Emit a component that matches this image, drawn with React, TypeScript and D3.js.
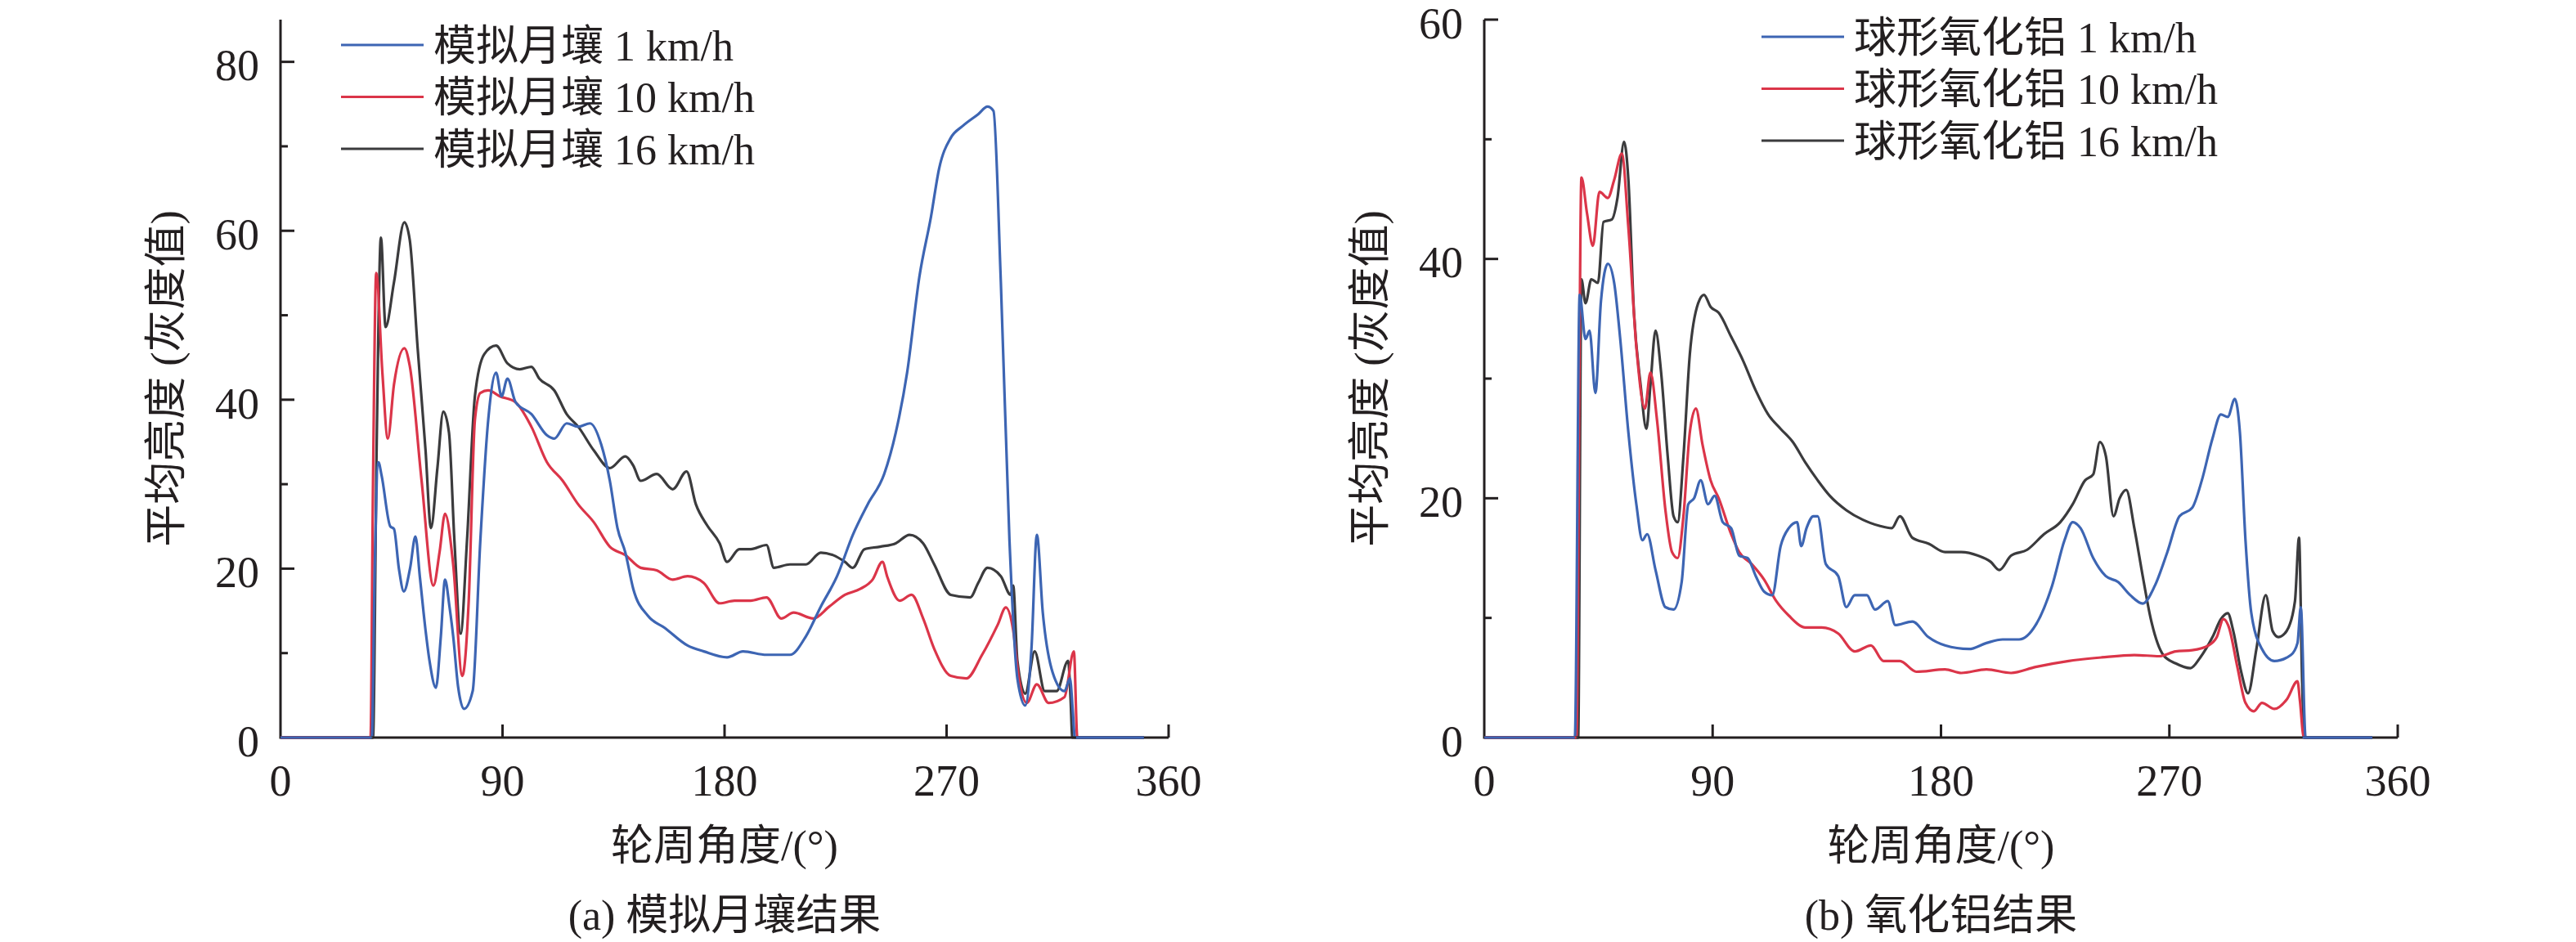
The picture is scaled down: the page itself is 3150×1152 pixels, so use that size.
import React, { useMemo } from 'react';
import * as d3 from 'd3';

type Pt = [number, number];

// (a) 模拟月壤 — angle (°), mean brightness
const soil1: Pt[] = [[0,0],[37,0],[38.2,20],[39.7,32.6],[41,31],[44.5,25],[46,24.7],[48,20],[50,17.3],[52.5,20],[54.7,23.8],[56.5,19],[58.8,12.7],[60.4,9.1],[63,5.9],[65,12],[66.7,18.7],[68.5,15.5],[70,12],[72,6],[74.4,3.4],[77.9,5.5],[81,23.3],[84.2,37.6],[87.4,43.2],[89.6,40.4],[92,42.5],[95.3,39.7],[101.7,38.3],[108,35.8],[111,35.4],[116,37.2],[120.7,36.8],[125.5,37.2],[130,34.7],[133.5,30.4],[136.6,24.8],[139.8,21.9],[143,17.6],[149,14.4],[155.7,13],[165,10.9],[171.6,10.2],[181,9.5],[187.5,10.2],[197,9.8],[206.5,9.8],[213,12],[219,15.5],[225.6,19.1],[232,24],[238,27.6],[244.7,31.2],[249.4,36.1],[254,43.2],[259,54.6],[263.7,61.7],[267,67.4],[271.7,71],[276.5,72.4],[282.8,73.8],[286.6,74.7],[289,74.2],[292,53.9],[295.5,23.3],[298.7,7],[301.9,3.8],[304.4,10.5],[306.6,24],[309,14.8],[313,7.7],[317.8,5.5],[320,7],[321.2,3],[322,0],[350,0]];
const soil10: Pt[] = [[0,0],[36.5,0],[37.5,30],[38.8,55],[41.3,43.2],[43.5,35.4],[46,41.8],[50.2,46.1],[52.4,44],[57.2,30.4],[62,18],[64.5,22],[66.7,26.5],[70,20.5],[73.7,7.3],[76.3,16.2],[78.8,37.6],[81,40.8],[84.2,41.1],[89,40.4],[95.3,39.7],[101.7,36.8],[108,32.6],[114.4,30.4],[120.7,27.6],[127,25.5],[133.5,22.6],[139.8,21.6],[146,20.1],[152.5,19.8],[159,18.7],[165,19.1],[171.6,18.3],[178,15.9],[184,16.2],[190.6,16.2],[197,16.6],[203,14.1],[208,14.8],[216,14.1],[222.4,15.5],[228.8,16.9],[235,17.6],[240,18.7],[244,20.8],[246,19],[251,16.2],[255.8,16.9],[260.5,14.1],[265,10.5],[271.7,7.3],[278,7],[284.4,9.8],[290.8,13.4],[294,15.4],[297,12.7],[299,7.7],[302.5,4.1],[306.6,6.3],[311.4,4.1],[317.8,4.8],[321.6,10.2],[323,0],[350,0]];
const soil16: Pt[] = [[0,0],[37.5,0],[39,35],[40.7,59.2],[42.6,48.6],[46,53.9],[50.2,61],[52.4,58.9],[55.6,46.1],[58.8,34],[61,24.8],[63.6,31.9],[66,38.6],[68.3,36.1],[70.5,23.3],[73,12.3],[75.6,23.3],[78.8,40.4],[82.6,45.4],[87.4,46.4],[92,44.3],[97,43.6],[101.7,43.9],[104.9,42.5],[111,41.1],[116,38.3],[120.7,36.8],[127,34],[133.5,31.9],[139.8,33.3],[143,32.2],[146,30.4],[152.5,31.2],[159,29.4],[164.6,31.5],[168.4,27.6],[173,25.1],[178,23],[181,20.8],[186,22.3],[190.6,22.3],[197,22.8],[200,20.1],[206.5,20.5],[213,20.5],[219,21.9],[224,21.6],[228.8,20.8],[232,20.1],[236.7,22.3],[243,22.6],[249.4,23],[255,24],[260.5,23],[265,20.5],[271.7,16.9],[279.6,16.6],[282.8,18.3],[286.6,20.1],[292,19.1],[296,16.9],[297,18],[298.7,9.1],[301.9,5.2],[305.7,10.2],[309.8,5.5],[314.6,5.5],[319.3,9.1],[320.2,5],[321,0],[350,0]];

// (b) 球形氧化铝
const alu1: Pt[] = [[0,0],[35.7,0],[37.6,37],[39.9,33.3],[41.5,34],[43.8,28.8],[46,36.5],[48.7,39.6],[51.2,38],[53.5,33.5],[56.8,25.5],[60,19.4],[62.3,16.5],[64.2,17],[67.5,14],[71.4,10.9],[74.6,10.7],[77.8,13],[80.4,19.5],[82.7,20],[85.3,21.5],[88.2,19.5],[90.8,20.2],[94,18],[97.3,17.5],[100.5,15.2],[103.8,15],[107,13.5],[110.3,12.2],[113.5,11.9],[116.8,16],[120,17.5],[123.3,18],[124.9,16],[127,17.5],[129.7,18.5],[131.4,18.5],[134.6,14.5],[139.5,13.5],[142.7,10.9],[146,11.9],[150.8,11.9],[154,10.7],[159,11.4],[162,9.4],[168.7,9.7],[175,8.4],[181.6,7.7],[191,7.4],[197.9,7.9],[204.3,8.2],[210.8,8.2],[217.3,9.4],[223.8,12.7],[228.7,16.5],[231.9,18],[235,17.5],[240,15],[244.9,13.5],[249.8,13],[254.6,11.9],[259.5,11.2],[264.3,12.7],[269.2,15.5],[274,18.5],[279,19.2],[282.8,21.5],[287,25],[290.3,27],[293,26.8],[295.8,28.3],[297.8,25.5],[300,16.5],[302.3,10.4],[306.5,7.4],[311.4,6.4],[317.9,6.9],[320.5,7.9],[321.8,10.9],[323.7,0],[350,0]];
const alu10: Pt[] = [[0,0],[36.3,0],[38.3,46.8],[40.5,43.8],[42.8,41.1],[45.4,45.6],[48.7,45.1],[51.2,46.6],[54.2,48.8],[56.8,42.6],[60,32.5],[63.3,27.5],[65.5,30.5],[68.1,26.5],[71.4,19],[74,15.5],[76.2,15],[78.5,18.5],[81,25.5],[83.4,27.5],[86,24.5],[89.2,21.5],[92.4,20],[97.3,17],[100.5,15.5],[105.4,14.5],[110.3,13.2],[115.1,11.4],[120,10.2],[126.5,9.2],[133,9.2],[139.5,8.7],[146,7.2],[152.4,7.7],[157.3,6.4],[163.8,6.4],[170.3,5.5],[181.6,5.7],[188,5.4],[197.9,5.7],[207.6,5.4],[217.3,5.9],[230.3,6.4],[243.3,6.7],[256.2,6.9],[266,6.8],[272.5,7.2],[279,7.3],[285.4,7.7],[288.7,8.4],[291.3,9.9],[293.5,9.2],[296.8,5.9],[300,2.9],[303.3,2.2],[306.5,2.9],[311.4,2.4],[316.3,3.2],[320.5,4.7],[321.5,3],[323,0],[350,0]];
const alu16: Pt[] = [[0,0],[37,0],[38.3,38.3],[39.9,36.3],[42.2,38.3],[44.8,38],[47,43.1],[50.3,43.3],[52.5,45.1],[55.1,49.8],[56.8,46.6],[59,35.5],[61.6,29.5],[63.9,25.8],[65.5,29.5],[67.5,34],[69.7,30.5],[72.3,23.5],[74.6,18.5],[76.2,18],[78.5,23.5],[81,32],[84.3,36.3],[86.6,37],[89.2,36],[92.4,35.5],[97.3,33.5],[102,31.5],[107,29],[111.9,27],[116.8,25.8],[121.6,24.7],[126.5,23],[131.4,21.5],[136.2,20.2],[142.7,19],[149.2,18.2],[155.7,17.7],[160.6,17.5],[163.8,18.5],[168.7,16.7],[175.2,16.2],[181.6,15.5],[188,15.5],[194.6,15.2],[199.5,14.7],[203,14],[207.6,15.2],[214,15.7],[220.6,17],[227,18],[231.9,19.5],[236.8,21.5],[240,22],[242.6,24.7],[245,23.5],[248,18.5],[250.4,20],[253,20.7],[256.2,17.5],[259.5,13.5],[262.7,9.9],[267.6,6.9],[272.5,6.2],[278.3,5.8],[282.2,6.7],[287,8.4],[290.3,9.9],[293,10.4],[295.2,8.9],[298.4,5.4],[301,3.7],[304.3,7.4],[308,11.9],[310.7,8.9],[313,8.4],[316.2,8.9],[319.5,11.4],[321.1,16.7],[322.3,5],[323.2,0],[350,0]];

const speeds = ['1 km/h', '10 km/h', '16 km/h'];
const xTicks = [0, 90, 180, 270, 360];
const soilYTicks = [0, 20, 40, 60, 80];
const soilYMinor = [10, 30, 50, 70];
const aluYTicks = [0, 20, 40, 60];
const aluYMinor = [10, 30, 50];

const COLORS = ['#3d65b3', '#db3549', '#3b3b3d'];
const AXIS = '#231f20';
const FONT = "'Liberation Serif', 'Times New Roman', 'Noto Sans CJK SC', serif";

interface PanelProps {
  left: number;
  right: number;
  yMax: number;
  yTicks: number[];
  yMinor: number[];
  series: Pt[][];
  name: string;
  caption: string;
  legendX: number;
  legendY: number;
}

const TOP = 24;
const BOTTOM = 902;

const Panel: React.FC<PanelProps> = ({ left, right, yMax, yTicks, yMinor, series, name, caption, legendX, legendY }) => {
  const x = useMemo(() => d3.scaleLinear().domain([0, 360]).range([left, right]), [left, right]);
  const y = useMemo(() => d3.scaleLinear().domain([0, yMax]).range([BOTTOM, TOP]), [yMax]);
  const line = d3.line<Pt>().x(d => x(d[0])).y(d => y(d[1])).curve(d3.curveMonotoneX);
  const cx = (left + right) / 2;

  return (
    <g fontFamily={FONT} fill="#231f20">
      {/* lines, blue drawn last */}
      {[2, 1, 0].map(i => (
        <path key={i} d={line(series[i]) || ''} fill="none" stroke={COLORS[i]} strokeWidth={3.2} strokeLinejoin="round" />
      ))}
      {/* axes */}
      <line x1={left} x2={right} y1={BOTTOM} y2={BOTTOM} stroke={AXIS} strokeWidth={3} />
      <line x1={left} x2={left} y1={TOP} y2={BOTTOM + 1.5} stroke={AXIS} strokeWidth={3} />
      {[2, 1, 0].map(i => (
        <path key={'z' + i} d={line(series[i].filter(p => p[1] === 0 && p[0] < 40)) || ''} fill="none" stroke={COLORS[i]} strokeWidth={3.2} />
      ))}
      <path d={line([[322.5, 0], [350, 0]]) || ''} fill="none" stroke={COLORS[0]} strokeWidth={3.2} />
      {xTicks.filter(t => t > 0).map(t => (
        <line key={t} x1={x(t)} x2={x(t)} y1={BOTTOM} y2={BOTTOM - 16} stroke={AXIS} strokeWidth={3} />
      ))}
      {xTicks.map(t => (
        <text key={t} x={x(t)} y={973} fontSize={54} textAnchor="middle">{t}</text>
      ))}
      {yTicks.map(t => (
        <g key={t}>
          {t > 0 && <line x1={left} x2={left + 17} y1={y(t)} y2={y(t)} stroke={AXIS} strokeWidth={3} />}
          <text x={left - 26} y={y(t)} dy="0.42em" fontSize={54} textAnchor="end">{t}</text>
        </g>
      ))}
      {yMinor.map(t => (
        <line key={t} x1={left} x2={left + 9} y1={y(t)} y2={y(t)} stroke={AXIS} strokeWidth={3} />
      ))}
      <text transform={`translate(${left - 141},${(TOP + BOTTOM) / 2}) rotate(-90)`} fontSize={52} textAnchor="middle" dy="0.36em">
        平均亮度 (灰度值)
      </text>
      <text x={cx} y={1052} fontSize={52} textAnchor="middle">轮周角度/(°)</text>
      <text x={cx} y={1137} fontSize={52} textAnchor="middle">{caption}</text>
      {/* legend */}
      {speeds.map((s, i) => (
        <g key={s} transform={`translate(${legendX},${legendY + i * 63.5})`}>
          <line x1={0} x2={101} y1={0} y2={0} stroke={COLORS[i]} strokeWidth={3.2} />
          <text x={113} y={0} dy="0.36em" fontSize={52}>{`${name} ${s}`}</text>
        </g>
      ))}
    </g>
  );
};

const App: React.FC = () => (
  <svg width={3150} height={1152} style={{ position: 'absolute', left: 0, top: 0, background: '#fff' }}>
    <rect width={3150} height={1152} fill="#fff" />
    <Panel left={343} right={1429} yMax={85} yTicks={soilYTicks} yMinor={soilYMinor}
      series={[soil1, soil10, soil16]} name="模拟月壤" caption="(a) 模拟月壤结果" legendX={417} legendY={55} />
    <Panel left={1815} right={2932} yMax={60} yTicks={aluYTicks} yMinor={aluYMinor}
      series={[alu1, alu10, alu16]} name="球形氧化铝" caption="(b) 氧化铝结果" legendX={2154} legendY={45} />
  </svg>
);

export default App;
